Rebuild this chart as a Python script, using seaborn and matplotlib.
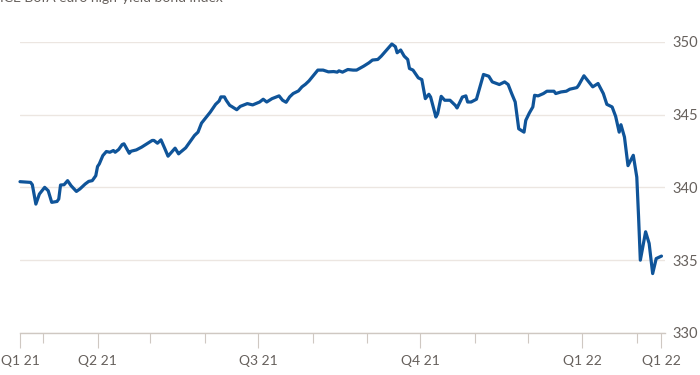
import matplotlib
matplotlib.use("Agg")
import matplotlib.pyplot as plt
import seaborn as sns
import pandas as pd

dates = [
    "2021-02-16", "2021-02-22", "2021-02-23", "2021-02-25", "2021-02-27", "2021-03-02", "2021-03-04", "2021-03-06",
    "2021-03-09", "2021-03-10", "2021-03-11", "2021-03-13", "2021-03-15", "2021-03-17", "2021-03-20", "2021-03-22",
    "2021-03-25", "2021-03-27", "2021-03-29", "2021-03-31", "2021-04-01", "2021-04-02", "2021-04-04", "2021-04-06",
    "2021-04-08", "2021-04-10", "2021-04-11", "2021-04-13", "2021-04-15", "2021-04-16", "2021-04-19", "2021-04-20",
    "2021-04-23", "2021-04-26", "2021-04-29", "2021-05-02", "2021-05-03", "2021-05-05", "2021-05-07", "2021-05-09",
    "2021-05-11", "2021-05-13", "2021-05-15", "2021-05-17", "2021-05-18", "2021-05-21", "2021-05-24", "2021-05-26",
    "2021-05-28", "2021-05-30", "2021-06-01", "2021-06-04", "2021-06-07", "2021-06-09", "2021-06-10", "2021-06-12",
    "2021-06-13", "2021-06-15", "2021-06-16", "2021-06-19", "2021-06-21", "2021-06-25", "2021-06-28", "2021-07-02",
    "2021-07-04", "2021-07-06", "2021-07-09", "2021-07-13", "2021-07-15", "2021-07-17", "2021-07-19", "2021-07-21",
    "2021-07-24", "2021-07-26", "2021-07-28", "2021-07-30", "2021-08-02", "2021-08-04", "2021-08-07", "2021-08-10",
    "2021-08-13", "2021-08-15", "2021-08-16", "2021-08-18", "2021-08-21", "2021-08-24", "2021-08-26", "2021-08-30",
    "2021-09-02", "2021-09-04", "2021-09-07", "2021-09-09", "2021-09-12", "2021-09-15", "2021-09-17", "2021-09-18",
    "2021-09-20", "2021-09-22", "2021-09-24", "2021-09-25", "2021-09-27", "2021-09-30", "2021-10-02", "2021-10-04",
    "2021-10-06", "2021-10-07", "2021-10-10", "2021-10-11", "2021-10-13", "2021-10-15", "2021-10-18", "2021-10-21",
    "2021-10-22", "2021-10-25", "2021-10-27", "2021-10-28", "2021-10-30", "2021-11-02", "2021-11-04", "2021-11-06",
    "2021-11-09", "2021-11-11", "2021-11-15", "2021-11-18", "2021-11-20", "2021-11-22", "2021-11-24", "2021-11-26",
    "2021-11-29", "2021-11-30", "2021-12-02", "2021-12-04", "2021-12-05", "2021-12-07", "2021-12-10", "2021-12-12",
    "2021-12-16", "2021-12-17", "2021-12-20", "2021-12-23", "2021-12-25", "2021-12-29", "2021-12-30", "2022-01-02",
    "2022-01-04", "2022-01-07", "2022-01-10", "2022-01-13", "2022-01-15", "2022-01-18", "2022-01-20", "2022-01-22",
    "2022-01-23", "2022-01-25", "2022-01-27", "2022-01-30", "2022-02-01", "2022-02-02", "2022-02-03", "2022-02-06",
    "2022-02-08", "2022-02-10", "2022-02-12", "2022-02-15",
]
values = [
    340.39, 340.34, 340.18, 338.85, 339.54, 340.00, 339.77, 338.97,
    339.03, 339.20, 340.16, 340.18, 340.46, 340.11, 339.72, 339.89,
    340.23, 340.41, 340.46, 340.80, 341.43, 341.61, 342.18, 342.46,
    342.41, 342.53, 342.41, 342.60, 342.94, 342.99, 342.34, 342.48,
    342.57, 342.76, 342.99, 343.22, 343.22, 343.03, 343.26, 342.71,
    342.14, 342.41, 342.69, 342.30, 342.41, 342.71, 343.22, 343.56,
    343.79, 344.41, 344.71, 345.17, 345.70, 345.93, 346.21, 346.21,
    345.98, 345.63, 345.56, 345.33, 345.56, 345.75, 345.66, 345.86,
    346.05, 345.86, 346.09, 346.28, 345.98, 345.84, 346.21, 346.44,
    346.62, 346.90, 347.08, 347.31, 347.75, 348.05, 348.05, 347.93,
    347.95, 347.91, 348.00, 347.91, 348.09, 348.05, 348.05, 348.32,
    348.55, 348.74, 348.78, 349.01, 349.43, 349.84, 349.66, 349.24,
    349.43, 349.01, 348.78, 348.16, 348.05, 347.52, 347.40, 346.09,
    346.39, 346.20, 344.83, 345.06, 346.25, 345.98, 345.98, 345.63,
    345.45, 346.20, 346.28, 345.86, 345.86, 346.05, 346.90, 347.75,
    347.63, 347.24, 347.06, 347.24, 347.06, 346.44, 345.86, 344.02,
    343.79, 344.60, 345.10, 345.52, 346.32, 346.28, 346.44, 346.60,
    346.60, 346.44, 346.55, 346.60, 346.74, 346.85, 347.01, 347.66,
    347.36, 346.90, 347.13, 346.44, 345.70, 345.52, 344.87, 343.79,
    344.30, 343.45, 341.49, 342.20, 340.70, 337.98, 335.00, 336.95,
    336.15, 334.08, 335.11, 335.28,
]

major_ticks = ["2021-02-16", "2021-04-01", "2021-07-01", "2021-10-01", "2022-01-01", "2022-02-15"]
major_labels = ["Q1 21", "Q2 21", "Q3 21", "Q4 21", "Q1 22", "Q1 22"]
minor_ticks = ["2021-03-01", "2021-05-01", "2021-06-01", "2021-08-01", "2021-09-01",
               "2021-11-01", "2021-12-01", "2022-02-01"]
y_ticks = [330, 335, 340, 345, 350]
title = "ICE BofA euro high-yield bond index"

sns.set_style("white")
plt.rcParams['font.family'] = ['Lato', 'DejaVu Sans']

text_color = "#66605c"
grid_color = "#ece6e1"
axis_color = "#cfc8c2"

fig = plt.figure(figsize=(7, 3.75), dpi=100)
ax = fig.add_axes([20 / 700, 1 - 333 / 375, 645 / 700, (333 - 41.7) / 375])

df = pd.DataFrame({"date": pd.to_datetime(dates), "value": values})
sns.lineplot(data=df, x="date", y="value", ax=ax, color="#0f5499",
             linewidth=2.3, clip_on=False, solid_joinstyle="round")

ax.set_xlim(pd.Timestamp("2021-02-16"), pd.Timestamp("2022-02-17"))
ax.set_ylim(330, 350)

ax.set_xticks(pd.to_datetime(major_ticks))
ax.set_xticklabels(major_labels)
ax.set_xticks(pd.to_datetime(minor_ticks), minor=True)
ax.tick_params(axis="x", which="major", length=11, width=0.8, color=axis_color,
               labelsize=10, labelcolor=text_color, pad=5, bottom=True)
ax.tick_params(axis="x", which="minor", length=7, width=0.8, color=axis_color, bottom=True)

ax.yaxis.tick_right()
ax.set_yticks(y_ticks)
ax.tick_params(axis="y", length=0, pad=5, labelsize=10.5, labelcolor=text_color)
ax.grid(axis="y", color=grid_color, linewidth=1)
ax.grid(axis="x", visible=False)
ax.set_axisbelow(True)

for side in ["left", "right", "top"]:
    ax.spines[side].set_visible(False)
ax.spines["bottom"].set_color(axis_color)
ax.spines["bottom"].set_linewidth(1)

ax.set_xlabel("")
ax.set_ylabel("")

fig.text(0.0, 1 - 1.7 / 375, title, ha="left", va="baseline", fontsize=10, color=text_color)

fig.savefig("out.png", dpi=100, facecolor="white")
